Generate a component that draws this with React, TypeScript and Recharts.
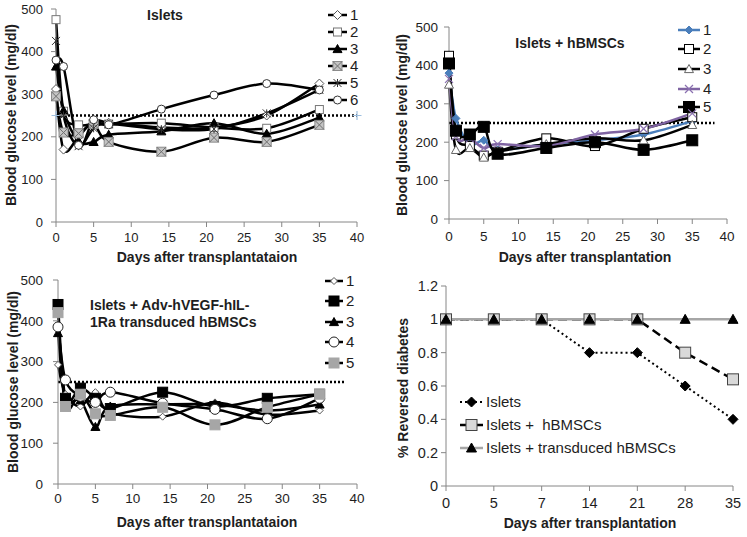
import React from 'react'
import { Line, LineChart, XAxis, YAxis } from 'recharts'

const FONT = '"Liberation Sans", Arial, sans-serif'
const AXIS = '#868686'
const INK = '#1e1e1e'

// time points of the glucose panels (days)
const days = [0, 1, 3, 5, 7, 14, 21, 28, 35]
const dayTicks = [0, 5, 10, 15, 20, 25, 30, 35, 40]
const glucoseTicks = [0, 100, 200, 300, 400, 500]

// Islets
const islets1 = [312, 170, 200, 238, 233, 222, 222, 250, 325]
const islets2 = [475, 260, 228, 230, 230, 232, 222, 220, 264]
const islets3 = [365, 262, 190, 188, 205, 213, 232, 207, 245]
const islets4 = [295, 210, 208, 230, 188, 165, 198, 188, 228]
const islets5 = [425, 250, 178, 220, 230, 218, 218, 255, 310]
const islets6 = [380, 365, 180, 240, 228, 265, 298, 325, 310]

// Islets + hBMSCs
const hb1 = [380, 262, 195, 205, 180, 195, 205, 220, 255]
const hb2 = [425, 220, 190, 165, 175, 210, 190, 235, 265]
const hb3 = [350, 180, 185, 160, 175, 195, 210, 205, 245]
const hb4 = [365, 215, 210, 185, 195, 190, 220, 235, 275]
const hb5 = [405, 230, 220, 240, 170, 185, 200, 180, 205]

// Islets + Adv-hVEGF-hIL-1Ra transduced hBMSCs
const tr1 = [292, 220, 190, 225, 175, 165, 200, 170, 180]
const tr2 = [440, 210, 235, 210, 185, 225, 190, 210, 220]
const tr3 = [370, 210, 205, 140, 190, 195, 195, 180, 195]
const tr4 = [385, 255, 215, 200, 225, 198, 183, 160, 210]
const tr5 = [420, 190, 220, 172, 168, 188, 145, 188, 220]

// % reversed diabetes
const reversalDays = ['0', '5', '7', '14', '21', '28', '35']
const reversalIslets = [1, 1, 1, 0.8, 0.8, 0.6, 0.4]
const reversalHbmsc = [1, 1, 1, 1, 1, 0.8, 0.64]
const reversalTransduced = [1, 1, 1, 1, 1, 1, 1]
const reversalTicks = [0, 0.2, 0.4, 0.6, 0.8, 1, 1.2]

const threshold = 250

// Excel-like smoothed line (catmull-rom through every point)
const smoothCurve = (ctx: any) => {
  let pts: number[][] = []
  return {
    areaStart() {},
    areaEnd() {},
    lineStart() {
      pts = []
    },
    point(x: number, y: number) {
      pts.push([+x, +y])
    },
    lineEnd() {
      if (!pts.length) return
      ctx.moveTo(pts[0][0], pts[0][1])
      for (let i = 0; i < pts.length - 1; i++) {
        const p0 = pts[i - 1] || pts[i]
        const p1 = pts[i]
        const p2 = pts[i + 1]
        const p3 = pts[i + 2] || p2
        ctx.bezierCurveTo(
          p1[0] + (p2[0] - p0[0]) / 6,
          p1[1] + (p2[1] - p0[1]) / 6,
          p2[0] - (p3[0] - p1[0]) / 6,
          p2[1] - (p3[1] - p1[1]) / 6,
          p2[0],
          p2[1]
        )
      }
    }
  }
}

type MarkerStyle = {
  shape: string
  size: number
  fill: string
  stroke: string
  sw?: number
}

const Marker = ({ cx, cy, m }: { cx: number; cy: number; m: MarkerStyle }) => {
  const r = m.size / 2
  const sw = m.sw ?? 1
  if (cx == null || cy == null) return null
  switch (m.shape) {
    case 'diamond':
      return (
        <polygon
          points={`${cx},${cy - r} ${cx + r},${cy} ${cx},${cy + r} ${cx - r},${cy}`}
          fill={m.fill}
          stroke={m.stroke}
          strokeWidth={sw}
        />
      )
    case 'square':
      return (
        <rect x={cx - r} y={cy - r} width={m.size} height={m.size} fill={m.fill} stroke={m.stroke} strokeWidth={sw} />
      )
    case 'triangle':
      return (
        <polygon
          points={`${cx},${cy - r} ${cx + r},${cy + r * 0.8} ${cx - r},${cy + r * 0.8}`}
          fill={m.fill}
          stroke={m.stroke}
          strokeWidth={sw}
        />
      )
    case 'xbox':
      return (
        <g>
          <rect x={cx - r} y={cy - r} width={m.size} height={m.size} fill={m.fill} stroke="#8c8c8c" strokeWidth={1} />
          <path d={`M${cx - r},${cy - r}L${cx + r},${cy + r}M${cx + r},${cy - r}L${cx - r},${cy + r}`} stroke={m.stroke} strokeWidth={sw} />
        </g>
      )
    case 'star':
      return (
        <path
          d={`M${cx - r},${cy - r}L${cx + r},${cy + r}M${cx + r},${cy - r}L${cx - r},${cy + r}M${cx},${cy - r}L${cx},${cy + r}`}
          stroke={m.stroke}
          strokeWidth={sw}
        />
      )
    case 'cross':
      return (
        <path d={`M${cx - r},${cy - r}L${cx + r},${cy + r}M${cx + r},${cy - r}L${cx - r},${cy + r}`} stroke={m.stroke} strokeWidth={sw} />
      )
    case 'plus':
      return <path d={`M${cx - r},${cy}L${cx + r},${cy}M${cx},${cy - r}L${cx},${cy + r}`} stroke={m.stroke} strokeWidth={sw} />
    default:
      return <circle cx={cx} cy={cy} r={r} fill={m.fill} stroke={m.stroke} strokeWidth={sw} />
  }
}

type Series = {
  name: string
  values: number[]
  stroke: string
  width: number
  dash?: string
  marker: MarkerStyle
}

const openDiamond = { shape: 'diamond', size: 9, fill: '#fff', stroke: '#555' }
const openSquare = { shape: 'square', size: 8, fill: '#fff', stroke: '#777' }
const blackTriangle = { shape: 'triangle', size: 9, fill: '#000', stroke: '#000' }
const xBox = { shape: 'xbox', size: 9, fill: '#c4c4c4', stroke: '#6e6e6e' }
const star = { shape: 'star', size: 8, fill: 'none', stroke: '#333' }
const openCircle = { shape: 'circle', size: 8, fill: '#fff', stroke: '#333' }

const isletSeries: Series[] = [
  { name: '1', values: islets1, stroke: '#000', width: 2.5, marker: openDiamond },
  { name: '2', values: islets2, stroke: '#000', width: 2.5, marker: openSquare },
  { name: '3', values: islets3, stroke: '#000', width: 2.5, marker: blackTriangle },
  { name: '4', values: islets4, stroke: '#000', width: 2.5, marker: xBox },
  { name: '5', values: islets5, stroke: '#000', width: 2.5, marker: star },
  { name: '6', values: islets6, stroke: '#000', width: 2.5, marker: openCircle }
]

const hbSeries: Series[] = [
  { name: '1', values: hb1, stroke: '#4a7ebb', width: 2.5, marker: { shape: 'diamond', size: 8, fill: '#4a7ebb', stroke: '#4a7ebb' } },
  { name: '2', values: hb2, stroke: '#000', width: 2.5, marker: { shape: 'square', size: 9, fill: '#fff', stroke: '#000' } },
  { name: '3', values: hb3, stroke: '#000', width: 2.5, marker: { shape: 'triangle', size: 9, fill: '#fff', stroke: '#666' } },
  { name: '4', values: hb4, stroke: '#7f64a2', width: 2.5, marker: { shape: 'cross', size: 8, fill: 'none', stroke: '#8a70b0', sw: 1.2 } },
  { name: '5', values: hb5, stroke: '#000', width: 2.5, marker: { shape: 'square', size: 11, fill: '#000', stroke: '#000' } }
]

const trSeries: Series[] = [
  { name: '1', values: tr1, stroke: '#000', width: 2.5, marker: { shape: 'diamond', size: 7, fill: '#fff', stroke: '#555' } },
  { name: '2', values: tr2, stroke: '#000', width: 2.5, marker: { shape: 'square', size: 10, fill: '#000', stroke: '#000' } },
  { name: '3', values: tr3, stroke: '#000', width: 2.5, marker: blackTriangle },
  { name: '4', values: tr4, stroke: '#000', width: 2.5, marker: { shape: 'circle', size: 10, fill: '#fff', stroke: '#222' } },
  { name: '5', values: tr5, stroke: '#000', width: 2.5, marker: { shape: 'square', size: 10, fill: '#a6a6a6', stroke: '#a6a6a6' } }
]

const reversalSeries: Series[] = [
  { name: 'Islets', values: reversalIslets, stroke: '#000', width: 2, dash: '2 3', marker: { shape: 'diamond', size: 10, fill: '#000', stroke: '#000' } },
  { name: 'Islets +  hBMSCs', values: reversalHbmsc, stroke: '#000', width: 2.5, dash: '9 5', marker: { shape: 'square', size: 11, fill: '#d9d9d9', stroke: '#444' } },
  { name: 'Islets + transduced hBMSCs', values: reversalTransduced, stroke: '#a6a6a6', width: 2.5, marker: { shape: 'triangle', size: 10, fill: '#000', stroke: '#000' } }
]

const Legend = ({ series, x0, x1, ys, fontSize }: { series: Series[]; x0: number; x1: number; ys: number[]; fontSize: number }) => (
  <g>
    {series.map((s, i) => (
      <g key={s.name}>
        <line x1={x0} x2={x1} y1={ys[i]} y2={ys[i]} stroke={s.stroke} strokeWidth={s.width} strokeDasharray={s.dash} />
        <Marker cx={(x0 + x1) / 2} cy={ys[i]} m={s.marker} />
        <text
          x={x1 + 3}
          y={ys[i] + fontSize * 0.36}
          fontSize={fontSize}
          fontFamily={FONT}
          fill={INK}
          style={{ whiteSpace: 'pre' }}
        >
          {s.name}
        </text>
      </g>
    ))}
  </g>
)

const Bold = ({ x, y, children, anchor = 'middle', rotate = false }: any) => (
  <text
    x={x}
    y={y}
    fontSize={14}
    fontWeight="bold"
    fontFamily={FONT}
    fill={INK}
    textAnchor={anchor}
    transform={rotate ? `rotate(-90 ${x} ${y})` : undefined}
  >
    {children}
  </text>
)

type PanelProps = {
  series: Series[]
  left: number
  top: number
  width: number
  height: number
  margin: { top: number; right: number; bottom: number; left: number }
  yWidth: number
  xHeight: number
  tickFont: number
  yTickMargin: number
  xTickMargin: number
  lineEnd: number
  plusEnds?: boolean
  children?: React.ReactNode
}

const GlucosePanel = (p: PanelProps) => {
  const rows = days.map((day, i) => {
    const row: Record<string, number> = { day }
    p.series.forEach((s, k) => {
      row['s' + k] = s.values[i]
    })
    return row
  })
  const limit = [
    { day: 0, v: threshold },
    { day: p.lineEnd, v: threshold }
  ]
  const tick = { fill: INK, fontSize: p.tickFont, fontFamily: FONT }
  return (
    <div style={{ position: 'absolute', left: p.left, top: p.top }}>
      <LineChart width={p.width} height={p.height} data={rows} margin={p.margin}>
        <XAxis
          dataKey="day"
          type="number"
          domain={[0, 40]}
          ticks={dayTicks}
          interval={0}
          height={p.xHeight}
          stroke={AXIS}
          tickSize={5}
          tickMargin={p.xTickMargin}
          tick={tick}
        />
        <YAxis
          type="number"
          domain={[0, 500]}
          ticks={glucoseTicks}
          interval={0}
          width={p.yWidth}
          stroke={AXIS}
          tickSize={5}
          tickMargin={p.yTickMargin}
          tick={tick}
        />
        <Line
          data={limit}
          dataKey="v"
          stroke="#000"
          strokeWidth={2.5}
          strokeDasharray="2 2"
          isAnimationActive={false}
          activeDot={false}
          dot={
            p.plusEnds
              ? (d: any) => (
                  <Marker key={'p' + d.index} cx={d.cx} cy={d.cy} m={{ shape: 'plus', size: 9, fill: 'none', stroke: '#9dbfe0', sw: 1.2 }} />
                )
              : false
          }
        />
        {p.series.map((s, k) => (
          <Line
            key={s.name}
            dataKey={'s' + k}
            type={smoothCurve as any}
            stroke={s.stroke}
            strokeWidth={s.width}
            isAnimationActive={false}
            activeDot={false}
            dot={(d: any) => <Marker key={s.name + '-' + d.index} cx={d.cx} cy={d.cy} m={s.marker} />}
          />
        ))}
        {p.children}
      </LineChart>
    </div>
  )
}

const ReversalPanel = () => {
  const rows = reversalDays.map((day, i) => ({
    day,
    a: reversalIslets[i],
    b: reversalHbmsc[i],
    c: reversalTransduced[i]
  }))
  const tick = { fill: INK, fontSize: 14.5, fontFamily: FONT }
  const keys = ['a', 'b', 'c']
  return (
    <div style={{ position: 'absolute', left: 370, top: 265 }}>
      <LineChart width={377} height={272} data={rows} margin={{ top: 21, right: 14, bottom: 0, left: 0 }}>
        <XAxis
          dataKey="day"
          type="category"
          interval={0}
          height={51}
          stroke={AXIS}
          tickSize={5}
          tickMargin={7}
          tick={tick}
        />
        <YAxis
          type="number"
          domain={[0, 1.2]}
          ticks={reversalTicks}
          interval={0}
          width={76}
          stroke={AXIS}
          tickSize={5}
          tickMargin={3}
          tick={tick}
          tickFormatter={(v: number) => String(v)}
        />
        {reversalSeries.map((s, k) => (
          <Line
            key={s.name}
            dataKey={keys[k]}
            type="linear"
            stroke={s.stroke}
            strokeWidth={s.width}
            strokeDasharray={s.dash}
            isAnimationActive={false}
            activeDot={false}
            dot={(d: any) => <Marker key={s.name + '-' + d.index} cx={d.cx} cy={d.cy} m={s.marker} />}
          />
        ))}
        <Legend series={reversalSeries} x0={90} x1={113} ys={[137, 160, 183]} fontSize={15} />
        <Bold x={38} y={123} rotate>
          % Reversed diabetes
        </Bold>
        <Bold x={220} y={263}>
          Days after transplantation
        </Bold>
      </LineChart>
    </div>
  )
}

export default function App() {
  return (
    <div style={{ position: 'absolute', left: 0, top: 0, width: 747, height: 537, background: '#fff', overflow: 'hidden' }}>
      <GlucosePanel
        series={isletSeries}
        left={0}
        top={0}
        width={380}
        height={265}
        margin={{ top: 9, right: 23, bottom: 0, left: 0 }}
        yWidth={56}
        xHeight={43}
        tickFont={13}
        yTickMargin={8}
        xTickMargin={6}
        lineEnd={40}
        plusEnds
      >
        <Bold x={165} y={20}>
          Islets
        </Bold>
        <Legend series={isletSeries} x0={328} x1={347} ys={[15, 32, 49, 66, 83, 100]} fontSize={15} />
        <Bold x={16} y={115} rotate>
          Blood glucose level (mg/dl)
        </Bold>
        <Bold x={207} y={262}>
          Days after transplantataion
        </Bold>
      </GlucosePanel>
      <GlucosePanel
        series={hbSeries}
        left={370}
        top={0}
        width={377}
        height={265}
        margin={{ top: 27, right: 20, bottom: 0, left: 0 }}
        yWidth={79}
        xHeight={46}
        tickFont={13.5}
        yTickMargin={6}
        xTickMargin={7}
        lineEnd={38.2}
      >
        <Bold x={200} y={48}>
          Islets + hBMSCs
        </Bold>
        <Legend series={hbSeries} x0={308} x1={330} ys={[30, 49, 69, 89, 107]} fontSize={15} />
        <Bold x={37} y={125} rotate>
          Blood glucose level (mg/dl)
        </Bold>
        <Bold x={215} y={262}>
          Days after transplantation
        </Bold>
      </GlucosePanel>
      <GlucosePanel
        series={trSeries}
        left={0}
        top={265}
        width={380}
        height={272}
        margin={{ top: 15, right: 23, bottom: 0, left: 0 }}
        yWidth={58}
        xHeight={53}
        tickFont={13.5}
        yTickMargin={10}
        xTickMargin={4}
        lineEnd={38.4}
      >
        <Bold x={90} y={45} anchor="start">
          Islets + Adv-hVEGF-hIL-
        </Bold>
        <Bold x={90} y={62} anchor="start">
          1Ra transduced hBMSCs
        </Bold>
        <Legend series={trSeries} x0={325} x1={343} ys={[16, 36, 57, 77, 98]} fontSize={15} />
        <Bold x={18} y={117} rotate>
          Blood glucose level (mg/dl)
        </Bold>
        <Bold x={207} y={262}>
          Days after transplantataion
        </Bold>
      </GlucosePanel>
      <ReversalPanel />
    </div>
  )
}
